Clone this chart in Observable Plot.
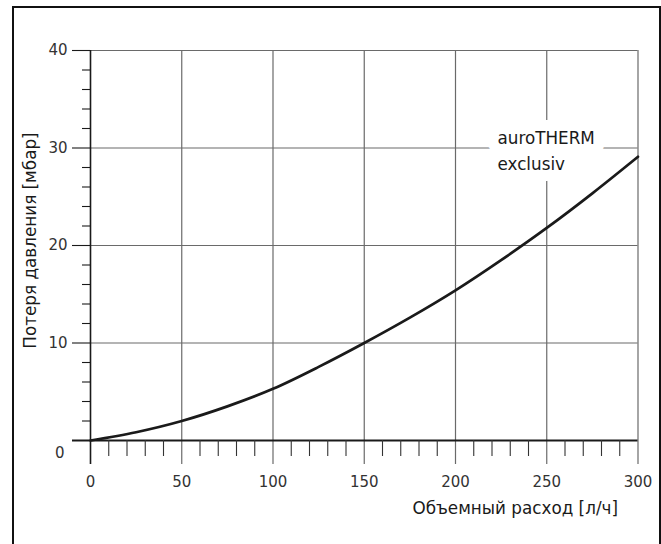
<!DOCTYPE html>
<html>
<head>
<meta charset="utf-8">
<script src="https://cdn.jsdelivr.net/npm/d3@7"></script>
<script src="https://cdn.jsdelivr.net/npm/@observablehq/plot@0.6"></script>
<style>
  html, body { margin: 0; padding: 0; background: #fff; overflow: hidden; }
  #wrap { position: relative; width: 661px; height: 544px; }
  #border { position: absolute; left: 12px; top: 6px; width: 645px; height: 560px; border: 2px solid #111; pointer-events: none; }
</style>
</head>
<body>
<div id="wrap"><div id="border"></div></div>
<script>
// Flow rate [l/h] and pressure loss [mbar]
const flow = [0, 25, 50, 75, 100, 125, 150, 175, 200, 225, 250, 275, 300];
const loss = [0, 0.85, 2.0, 3.5, 5.3, 7.55, 10.0, 12.6, 15.4, 18.5, 21.8, 25.35, 29.1];

const xMajor = [0, 50, 100, 150, 200, 250, 300];
const xMinor = [10, 20, 30, 40, 60, 70, 80, 90, 110, 120, 130, 140, 160, 170, 180, 190, 210, 220, 230, 240, 260, 270, 280, 290];
const yMajor = [10, 20, 30, 40];
const yMinor = [2, 4, 6, 8, 12, 14, 16, 18, 22, 24, 26, 28, 32, 34, 36, 38];
const yZero = [0];

const seriesName = ["auroTHERM", "exclusiv"];
const labelPos = [{x: 223, y: 32.2}];
const xTitle = "Объемный расход [л/ч]";
const yTitle = "Потеря давления [мбар]";

const data = flow.map((f, i) => ({flow: f, loss: loss[i]}));
const ink = "#1a1a1a";
const gridColor = "#6a6a6a";

const chart = Plot.plot({
  width: 661,
  height: 544,
  marginLeft: 90,
  marginRight: 23.5,
  marginTop: 50,
  marginBottom: 104,
  x: {domain: [0, 300]},
  y: {domain: [0, 40]},
  style: {fontFamily: "'DejaVu Sans', sans-serif", fontSize: "15px", color: ink, background: "transparent"},
  marks: [
    // grid
    Plot.ruleX(xMajor.filter(d => d !== 0), {x: d => d, stroke: gridColor, strokeWidth: 1.2, insetBottom: -24}),
    Plot.ruleY(yMajor, {y: d => d, stroke: gridColor, strokeWidth: 1.2}),
    // y axis
    Plot.ruleX(yZero, {x: d => d, stroke: ink, strokeWidth: 1.6, insetBottom: -24}),
    Plot.axisY(yMajor, {tickSize: 18, tickPadding: 5, stroke: ink, strokeWidth: 1.1, label: null, fill: "#333", fontSize: 15}),
    Plot.axisY(yMinor, {tickSize: 8, tickFormat: () => "", stroke: ink, strokeWidth: 1.1, label: null}),
    Plot.text(yZero, {x: () => 0, y: d => d, text: d => String(d), dx: -26, dy: 13, textAnchor: "end", fill: "#333", fontSize: 15}),
    // x axis
    Plot.ruleY(yZero, {y: d => d, stroke: ink, strokeWidth: 2.2, insetLeft: -18}),
    Plot.axisX(xMinor, {tickSize: 16, tickFormat: () => "", stroke: "#333", strokeWidth: 1.1, label: null}),
    Plot.axisX(xMajor, {tickSize: 0, tickPadding: 36, label: null, fill: "#333", fontSize: 15}),
    // curve
    Plot.line(data, {x: "flow", y: "loss", curve: "monotone-x", stroke: ink, strokeWidth: 2.7}),
    // series label
    Plot.text(labelPos, {x: "x", y: "y", text: () => seriesName.join("\n"), textAnchor: "start", lineAnchor: "top",
      lineHeight: 1.5, fontSize: 16.8, fill: ink, stroke: "white", strokeWidth: 22, strokeLinejoin: "round", paintOrder: "stroke"}),
    // titles
    Plot.text([xTitle], {frameAnchor: "bottom-right", text: d => d, textAnchor: "end", lineAnchor: "middle", dx: -20, dy: 68, fill: ink, fontSize: 16.8}),
    Plot.text([yTitle], {frameAnchor: "left", text: d => d, rotate: -90, textAnchor: "middle", lineAnchor: "middle", dx: -60, dy: -5, fill: ink, fontSize: 16.8})
  ]
});
document.getElementById("wrap").prepend(chart);
</script>
</body>
</html>
